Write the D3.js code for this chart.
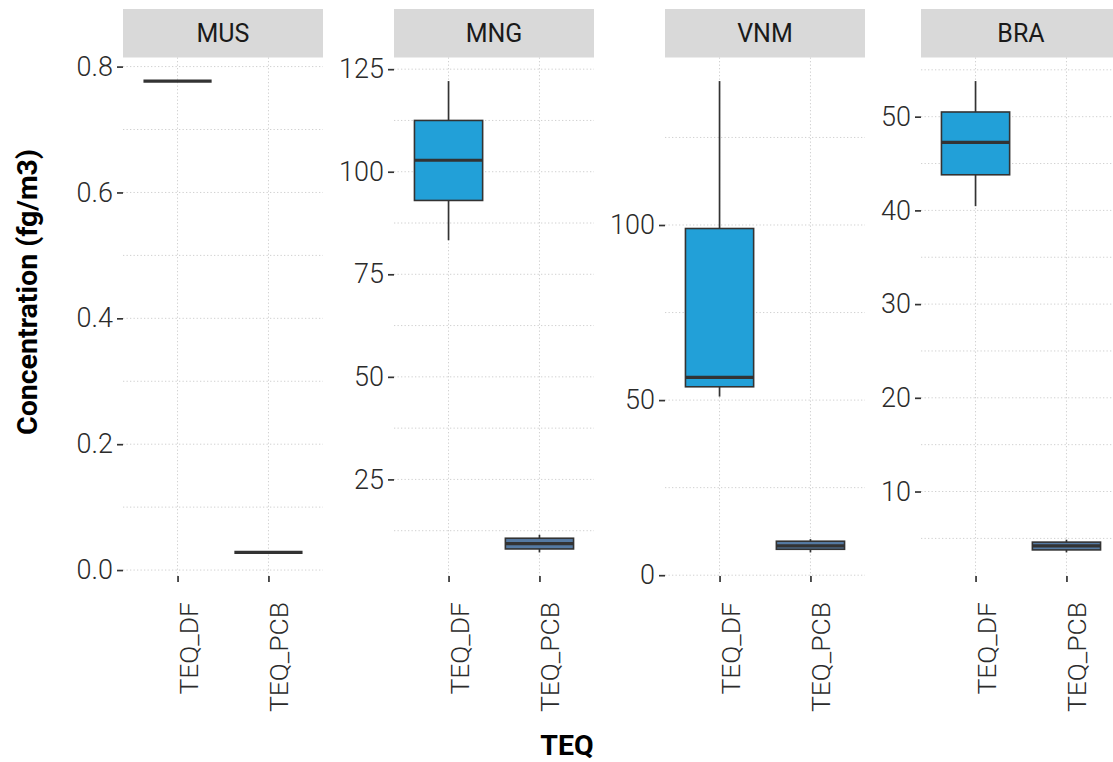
<!DOCTYPE html>
<html><head><meta charset="utf-8">
<script src="https://cdn.jsdelivr.net/npm/d3@7"></script>
<style>body{margin:0;background:#fff}svg{display:block}</style>
</head><body>
<script>
// ---- data ----
const countries = ["MUS", "MNG", "VNM", "BRA"];
const categories = ["TEQ_DF", "TEQ_PCB"];
// five-number summaries: [lower whisker, q1, median, q3, upper whisker]
const dfStats = [
  [0.777, 0.777, 0.777, 0.777, 0.777],
  [83.3, 93.0, 102.8, 112.5, 122.1],
  [51.0, 53.8, 56.5, 99.0, 141.1],
  [40.45, 43.8, 47.25, 50.5, 53.8]
];
const pcbStats = [
  [0.028, 0.028, 0.028, 0.028, 0.028],
  [7.2, 8.05, 9.35, 10.66, 11.5],
  [6.5, 7.4, 8.4, 9.7, 10.3],
  [3.5, 3.77, 4.2, 4.6, 4.86]
];
const yTicks = [
  [0, 0.2, 0.4, 0.6, 0.8],
  [25, 50, 75, 100, 125],
  [0, 50, 100],
  [10, 20, 30, 40, 50]
];
const yTickLabels = [
  ["0.0", "0.2", "0.4", "0.6", "0.8"],
  ["25", "50", "75", "100", "125"],
  ["0", "50", "100"],
  ["10", "20", "30", "40", "50"]
];
const xTitle = "TEQ";
const yTitle = "Concentration (fg/m3)";

// ---- layout ----
const W = 1113, H = 762;
const panelLefts = [123, 394, 665, 921];
const panelW = 200, panelTop = 57.5, panelBottom = 576;
const stripTop = 9;
const fills = {"TEQ_DF": "#22a0d8", "TEQ_PCB": "#557aa3"};
const ink = "#333333";

const svg = d3.select("body").append("svg").attr("width", W).attr("height", H)
  .style("font-family", "Roboto, 'DejaVu Sans', sans-serif");

countries.forEach((c, i) => {
  const L = panelLefts[i];
  const stats = [dfStats[i], pcbStats[i]];
  const lo = d3.min(stats, s => s[0]), hi = d3.max(stats, s => s[4]);
  const pad = (hi - lo) * 0.05;
  const y = d3.scaleLinear().domain([lo - pad, hi + pad]).range([panelBottom, panelTop]);
  const x = d3.scalePoint().domain(categories).range([L, L + panelW]).padding(0.6);
  const bw = x.step() * 0.75;
  const g = svg.append("g");

  // strip
  g.append("rect").attr("x", L).attr("y", stripTop).attr("width", panelW)
    .attr("height", panelTop - stripTop).attr("fill", "#d9d9d9");
  g.append("text").attr("x", L + panelW / 2).attr("y", (stripTop + panelTop) / 2)
    .attr("dy", "0.36em").attr("text-anchor", "middle").attr("font-size", 25)
    .attr("fill", "#1a1a1a").text(c);

  // minor grid
  const ticks = yTicks[i];
  const step = ticks[1] - ticks[0];
  const [d0, d1] = y.domain();
  const minors = [];
  for (let v = ticks[0] - step / 2; v <= d1; v += step) if (v >= d0) minors.push(v);
  const grid = g.append("g").attr("stroke", "#d0d0d0").attr("stroke-width", 1)
    .attr("stroke-dasharray", "1.3,2.2").attr("fill", "none");
  minors.concat(ticks).forEach(v => {
    grid.append("line").attr("x1", L).attr("x2", L + panelW)
      .attr("y1", y(v)).attr("y2", y(v));
  });
  categories.forEach(k => {
    grid.append("line").attr("x1", x(k)).attr("x2", x(k))
      .attr("y1", panelTop).attr("y2", panelBottom);
  });

  // y axis
  const yAxis = d3.axisLeft(y).tickValues(ticks).tickSize(6).tickPadding(4)
    .tickFormat((d, j) => yTickLabels[i][j]);
  const ya = g.append("g").attr("transform", `translate(${L},0)`).call(yAxis);
  ya.select(".domain").remove();
  ya.selectAll(".tick line").attr("stroke", ink).attr("stroke-width", 1.7);
  ya.selectAll(".tick text").attr("font-size", 27).attr("font-weight", 300)
    .attr("fill", "#2b2b2b").attr("font-family", "Roboto, sans-serif");

  // x axis
  const xAxis = d3.axisBottom(x).tickSize(6).tickPadding(0);
  const xa = g.append("g").attr("transform", `translate(0,${panelBottom})`).call(xAxis);
  xa.select(".domain").remove();
  xa.selectAll(".tick line").attr("stroke", ink).attr("stroke-width", 1.7);
  xa.selectAll(".tick text").attr("font-size", 26.5).attr("font-weight", 300)
    .attr("fill", "#2b2b2b").attr("font-family", "Roboto, sans-serif")
    .attr("text-anchor", "end").attr("dy", null)
    .attr("transform", "translate(19.5,26) rotate(-90)")
    .attr("x", 0).attr("y", 0);

  // boxes
  categories.forEach((k, j) => {
    const s = stats[j];
    const cx = x(k);
    const bg = g.append("g");
    bg.append("line").attr("x1", cx).attr("x2", cx).attr("y1", y(s[4])).attr("y2", y(s[3]))
      .attr("stroke", ink).attr("stroke-width", 1.7);
    bg.append("line").attr("x1", cx).attr("x2", cx).attr("y1", y(s[1])).attr("y2", y(s[0]))
      .attr("stroke", ink).attr("stroke-width", 1.7);
    bg.append("rect").attr("x", cx - bw / 2).attr("width", bw)
      .attr("y", y(s[3])).attr("height", Math.max(0, y(s[1]) - y(s[3])))
      .attr("fill", fills[k]).attr("stroke", ink).attr("stroke-width", 1.6);
    bg.append("line").attr("x1", cx - bw / 2).attr("x2", cx + bw / 2)
      .attr("y1", y(s[2])).attr("y2", y(s[2]))
      .attr("stroke", ink).attr("stroke-width", 3.2);
  });
});

// axis titles
svg.append("text").attr("x", 567).attr("y", 745).attr("dy", "0.36em")
  .attr("text-anchor", "middle").attr("font-size", 28.5).attr("font-weight", 700)
  .attr("fill", "#000").text(xTitle);
svg.append("text").attr("transform", "translate(27,292) rotate(-90)").attr("dy", "0.36em")
  .attr("text-anchor", "middle").attr("font-size", 28.5).attr("font-weight", 700)
  .attr("fill", "#000").text(yTitle);
</script>
</body></html>
